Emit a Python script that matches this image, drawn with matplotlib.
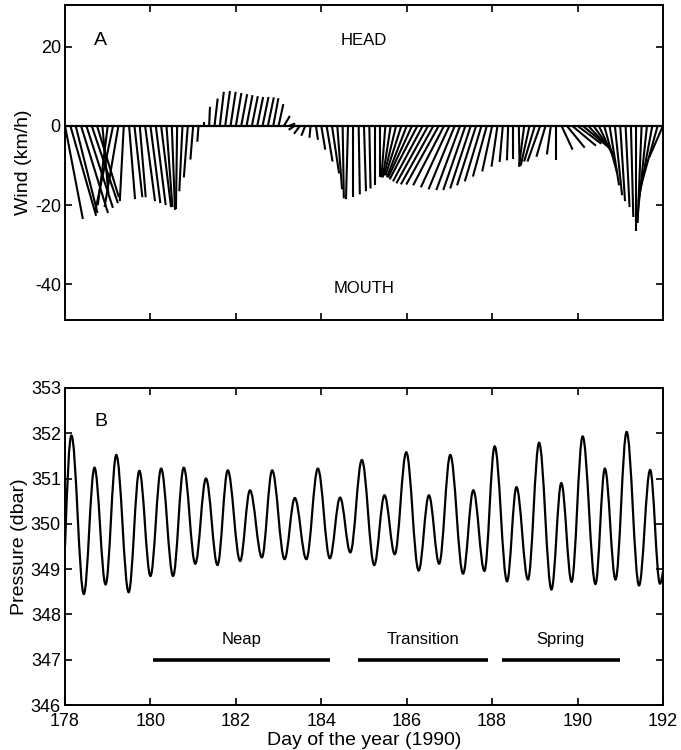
import numpy as np
import matplotlib
matplotlib.use("Agg")
import matplotlib.pyplot as plt
from matplotlib.path import Path
from matplotlib.patches import PathPatch

plt.rcParams['font.family'] = ['Liberation Sans', 'DejaVu Sans']
plt.rcParams['axes.unicode_minus'] = False

# ---- panel A: wind sticks, 3-hourly from day 178.0 ----
wind_t0 = 178.0
wind_dt = 0.125
# along-axis (x) and cross (y) wind components, km/h
wind_u = [4.5, 6.5, 5.5, 6.8, 6.7, 6.6, 5.5, 1.5,
          -2.5, -4.5, -3.5, -1, 1.5, 2, 1.5, 2.5,
          2.5, 2.5, 2.5, 1.5, 0.8, -0.3, -0.8, -1,
          -0.7, -0.3, 0, 0.2, 0.8, 1, 1.2, 1.3,
          1.4, 1.5, 1.5, 1.5, 1.5, 1.5, 1.5, 1.3,
          1.2, 1.5, 1.5, -1.5, -1.5, -1, -0.3, 0.5,
          1, 1.5, 1.8, 1.2, 0.3, -0.5, 0, 0.3,
          0.5, 0.3, 0, 0, -1, -2, -3, -4,
          -5, -6, -7, -7.5, -8, -8.2, -8.2, -7.8,
          -7.2, -6.6, -6, -5.6, -5.2, -4.8, -4.2, -3.5,
          -2.5, -1.5, -0.8, -0.3, 0, 0.2, -1.3, -2.2,
          -2.7, -3.2, -2.3, -1, 0, 2.8, 4.5, 6,
          6, 6, 5.5, 5, 4.2, 3.3, 2.4, 1.8,
          1.2, 1, 0.6, 0, -1, -2.3, -3.5, -4.3,
          -3.5]
wind_v = [-23.5, -22.7, -22, -22, -20.7, -19.5, -18, -17,
          -20, -21.5, -20.5, -19, -18.5, -18, -18, -19,
          -19.5, -20, -20.5, -20.5, -21.2, -21, -16.5, -13,
          -8.5, -4, 1.1, 4.8, 6.9, 8.6, 8.8, 8.6,
          8.3, 8, 7.75, 7.5, 7.3, 7.3, 7.2, 7,
          5.5, 2.5, 0.6, -1, -2, -2.5, -3, -3.5,
          -6, -9, -12, -16, -18.3, -18.5, -18, -17.3,
          -16.5, -15.8, -15, -13, -13, -13, -12.5, -12.5,
          -13, -13, -13.5, -14, -14.5, -14.75, -14.8, -15,
          -15.5, -16, -16.2, -16.2, -15.8, -15, -14, -12.8,
          -11.5, -10.3, -9.1, -8.7, -8.3, -10.3, -10.3, -10,
          -9, -9, -7.8, -7.2, -8.5, -6, -5.5, -5,
          -4.5, -5, -5.8, -7, -9, -12, -15, -17.5,
          -19, -20.5, -23, -26.5, -24.5, -22, -19, -15.5,
          -8]
wind_t = [wind_t0 + i * wind_dt for i in range(len(wind_u))]

# ---- panel B: bottom pressure, times and values of highs and lows ----
pres_t = [178.0, 178.15, 178.44, 178.69, 178.95, 179.2, 179.49, 179.74, 180.0,
          180.25, 180.53, 180.78, 181.05, 181.3, 181.57, 181.81, 182.1,
          182.33, 182.61, 182.85, 183.14, 183.38, 183.65, 183.92, 184.2,
          184.44, 184.68, 184.95, 185.24, 185.48, 185.72, 185.99, 186.28,
          186.52, 186.76, 187.02, 187.32, 187.56, 187.82, 188.06, 188.35,
          188.57, 188.84, 189.1, 189.39, 189.62, 189.86, 190.12, 190.42,
          190.64, 190.89, 191.15, 191.44, 191.7, 191.93, 192.0]
pres_p = [349.5, 351.95, 348.45, 351.24, 348.66, 351.52, 348.49, 351.17, 348.85,
          351.22, 348.85, 351.24, 349.12, 351.0, 349.09, 351.18, 349.18,
          350.74, 349.26, 351.18, 349.22, 350.57, 349.22, 351.22, 349.24,
          350.58, 349.37, 351.41, 349.09, 350.63, 349.33, 351.58, 348.97,
          350.63, 349.12, 351.52, 348.9, 350.74, 348.96, 351.71, 348.73,
          350.81, 348.77, 351.79, 348.55, 350.9, 348.72, 351.93, 348.67,
          351.22, 348.77, 352.03, 348.64, 351.19, 348.68, 348.95]

phases = ["Neap", "Transition", "Spring"]
phase_start = [180.05, 184.86, 188.22]
phase_end = [184.2, 187.9, 191.0]

fig = plt.figure(figsize=(6.81, 7.5), dpi=100)
axA = fig.add_axes([0.0955, 0.5733, 0.878, 0.42])
axB = fig.add_axes([0.0955, 0.06, 0.878, 0.4227])

# stick plot: keep true angles, so one km/h spans the same length in x and y
xlimA = (178, 192)
ylimA = (-49, 30.5)
pos = axA.get_position()
w_in = pos.width * fig.get_figwidth()
h_in = pos.height * fig.get_figheight()
k = ((xlimA[1] - xlimA[0]) / w_in) / ((ylimA[1] - ylimA[0]) / h_in)

axA.axhline(0, color='k', lw=1.6, zorder=3)
for ti, ui, vi in zip(wind_t, wind_u, wind_v):
    axA.plot([ti, ti + k * ui], [0, vi], color='k', lw=1.5,
             solid_capstyle='butt')
axA.set_xlim(xlimA)
axA.set_ylim(ylimA)
axA.set_xticks(range(180, 191, 2))
axA.set_xticklabels([])
axA.set_yticks([-40, -20, 0, 20])
axA.set_ylabel("Wind (km/h)", fontsize=14, labelpad=2)
axA.text(178.84, 21.5, "A", fontsize=14, ha='center', va='center')
axA.text(185.0, 21.5, "HEAD", fontsize=12, ha='center', va='center')
axA.text(185.0, -41, "MOUTH", fontsize=12, ha='center', va='center')

# tidal pressure: smooth curve through the highs and lows
verts = [(pres_t[0], pres_p[0])]
codes = [Path.MOVETO]
for i in range(len(pres_t) - 1):
    t0, p0 = pres_t[i], pres_p[i]
    t1, p1 = pres_t[i + 1], pres_p[i + 1]
    h = 0.36 * (t1 - t0)
    c0 = (t0 + h, p0)
    c1 = (t1 - h, p1)
    if i == 0:
        c0 = (t0 + h, p0 + 0.6 * (p1 - p0))
    if i == len(pres_t) - 2:
        c1 = (t1 - h, p1 - 0.6 * (p1 - p0))
    verts += [c0, c1, (t1, p1)]
    codes += [Path.CURVE4] * 3
axB.add_patch(PathPatch(Path(verts, codes), fill=False, color='k', lw=1.6))

for name, s, e in zip(phases, phase_start, phase_end):
    axB.plot([s, e], [347, 347], color='k', lw=2.6, solid_capstyle='butt')
    axB.text((s + e) / 2, 347.45, name, fontsize=12, ha='center', va='center')

axB.set_xlim(178, 192)
axB.set_ylim(346, 353)
axB.set_xticks(range(178, 193, 2))
axB.set_yticks(range(346, 354))
axB.set_xlabel("Day of the year (1990)", fontsize=14, labelpad=1)
axB.set_ylabel("Pressure (dbar)", fontsize=14, labelpad=2)
axB.text(178.84, 352.25, "B", fontsize=14, ha='center', va='center')

for ax in (axA, axB):
    ax.tick_params(direction='in', top=True, right=True, labelsize=13,
                   length=5, width=1.2, pad=3)
    for sp in ax.spines.values():
        sp.set_linewidth(1.4)
axB.tick_params(axis='x', pad=6)

fig.savefig("out.png", dpi=100)
